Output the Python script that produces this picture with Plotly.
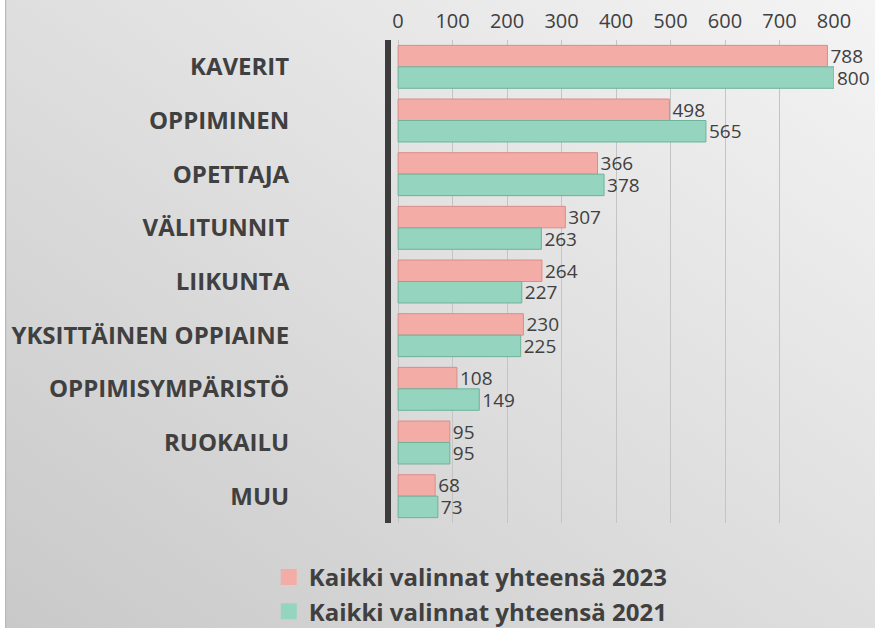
import base64
import plotly.graph_objects as go

categories = ["KAVERIT", "OPPIMINEN", "OPETTAJA", "VÄLITUNNIT", "LIIKUNTA",
              "YKSITTÄINEN OPPIAINE", "OPPIMISYMPÄRISTÖ", "RUOKAILU", "MUU"]
values_2023 = [788, 498, 366, 307, 264, 230, 108, 95, 68]
values_2021 = [800, 565, 378, 263, 227, 225, 149, 95, 73]
series_names = ["Kaikki valinnat yhteensä 2023", "Kaikki valinnat yhteensä 2021"]
tick_vals = [0, 100, 200, 300, 400, 500, 600, 700, 800]
colors = ["#f4aca6", "#95d4bf"]
edge_colors = ["#d98e88", "#6fb29b"]

W, H = 875, 628
ML, MR, MT, MB = 391, 41, 40, 105
FONT = "Open Sans"
TXT = "#404040"

svg = f'''<svg xmlns="http://www.w3.org/2000/svg" width="{W}" height="{H}" viewBox="0 0 {W} {H}" preserveAspectRatio="none">
<defs><linearGradient id="g" x1="1" y1="0" x2="0" y2="1">
<stop offset="0" stop-color="#f4f4f4"/><stop offset="1" stop-color="#c9c9c9"/></linearGradient></defs>
<rect x="0" y="0" width="{W}" height="{H}" fill="#ffffff"/>
<rect x="5" y="0" width="{W-5}" height="{H}" fill="url(#g)"/>
<rect x="5" y="0" width="1.2" height="{H}" fill="#b8b8b8"/>
</svg>'''
src = "data:image/svg+xml;base64," + base64.b64encode(svg.encode()).decode()

pw = W - ML - MR
ph = H - MT - MB

fig = go.Figure()
for name, vals, col, ecol in zip(series_names, [values_2023, values_2021], colors, edge_colors):
    fig.add_trace(go.Bar(
        y=categories, x=vals, name=name, orientation="h", showlegend=False,
        marker=dict(color=col, line=dict(color=ecol, width=1)),
        text=vals, textposition="outside", cliponaxis=False, constraintext="none",
        textfont=dict(family=FONT, size=19, color=TXT),
    ))
for name, col in zip(series_names, colors):
    fig.add_trace(go.Scatter(
        x=[None], y=[None], mode="markers", name=name,
        marker=dict(symbol="square", size=16, color=col),
    ))

fig.update_layout(
    width=W, height=H,
    margin=dict(l=ML, r=MR, t=MT, b=MB, pad=0, autoexpand=False),
    paper_bgcolor="rgba(0,0,0,0)", plot_bgcolor="rgba(0,0,0,0)",
    barmode="group", bargap=0.2, bargroupgap=0,
    font=dict(family=FONT, color=TXT),
    images=[dict(source=src, xref="paper", yref="paper",
                 x=-ML / pw, y=1 + MT / ph, sizex=W / pw, sizey=H / ph,
                 xanchor="left", yanchor="top", sizing="stretch", layer="below")],
    xaxis=dict(side="top", range=[-13, 800], tickvals=tick_vals, automargin=False,
               showgrid=True, gridcolor="#c4c4c4", gridwidth=1, zeroline=False,
               tickfont=dict(family=FONT, size=20, color=TXT), ticks="",
               ticklabelstandoff=7, showline=False, fixedrange=True),
    yaxis=dict(autorange="reversed", showline=True, linewidth=6, linecolor="#3c3c3c",
               ticks="", ticklabelstandoff=91, automargin=False,
               tickfont=dict(family=FONT, size=24, color=TXT, weight="bold"),
               showgrid=False),
    legend=dict(orientation="v", xref="container", yref="container",
                x=0.538, xanchor="center", y=1 - 555 / H, yanchor="top",
                font=dict(family=FONT, size=24, color=TXT, weight="bold"),
                itemwidth=30, tracegroupgap=0, traceorder="normal",
                bgcolor="rgba(0,0,0,0)"),
    showlegend=True,
)
fig.write_html("out.html", config={"displayModeBar": False},
               post_script="document.body.style.margin='0';")
